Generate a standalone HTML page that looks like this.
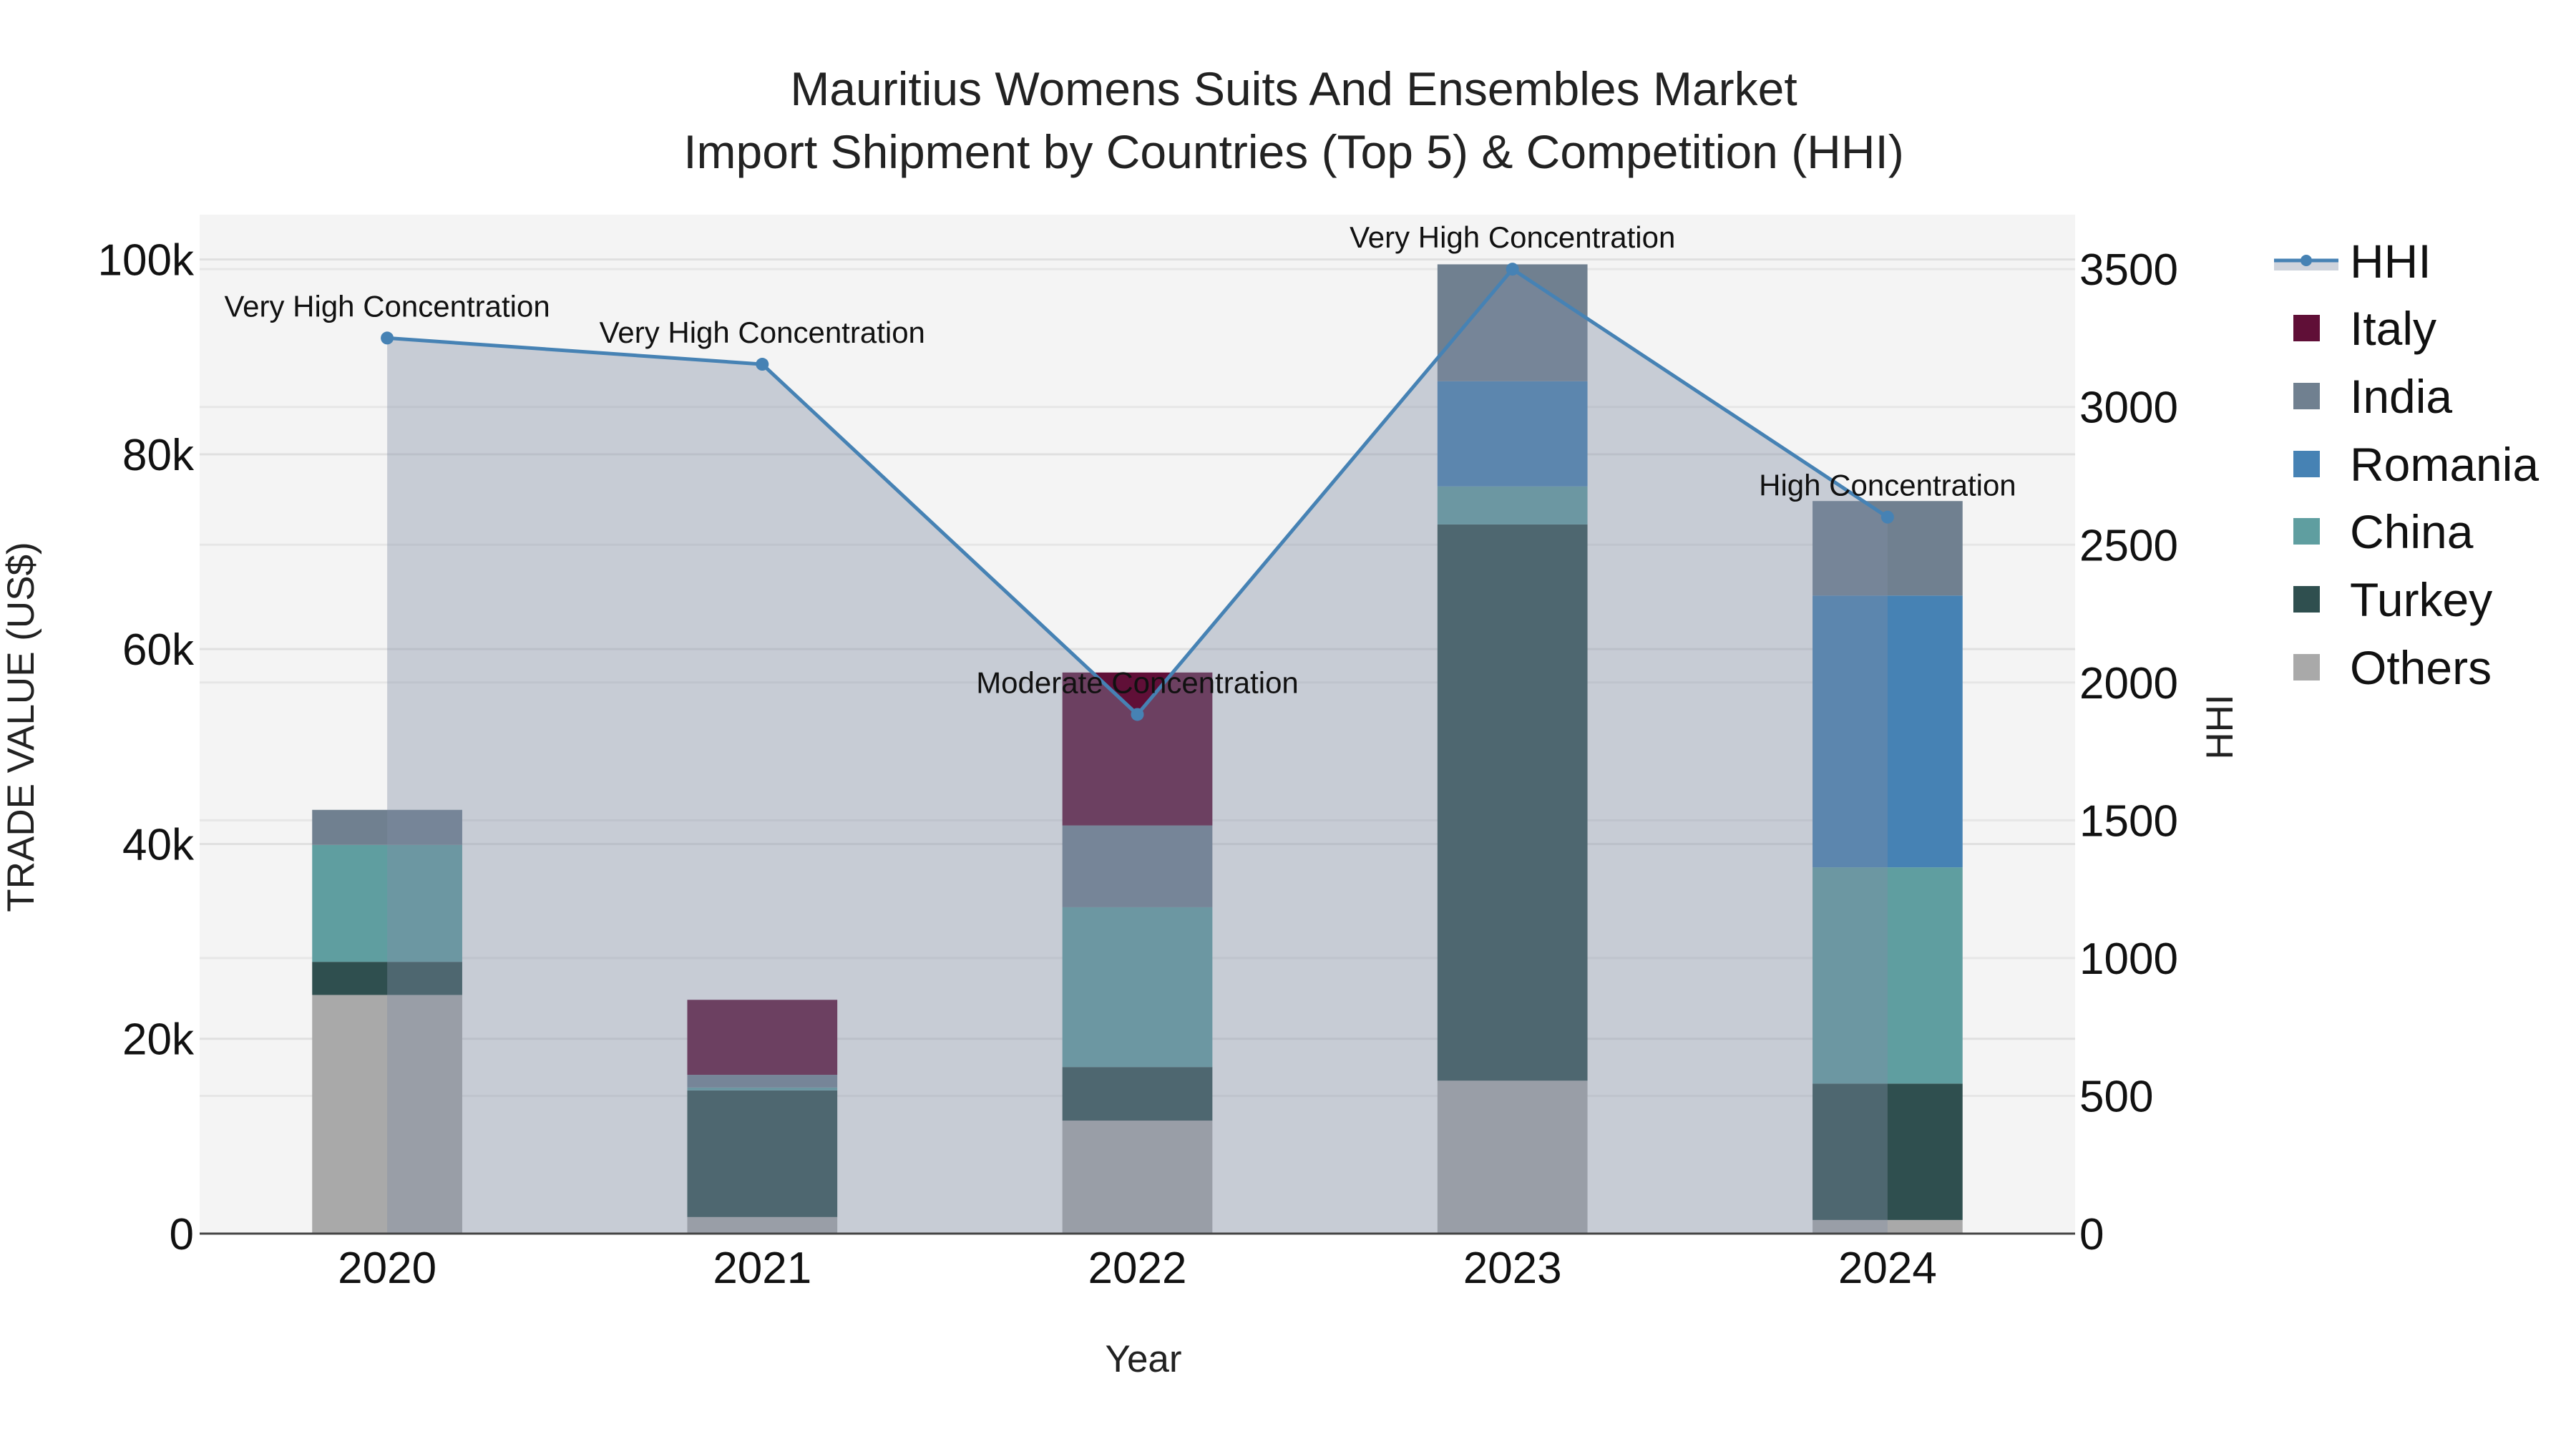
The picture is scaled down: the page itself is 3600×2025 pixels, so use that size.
<!DOCTYPE html>
<html><head><meta charset="utf-8"><style>
html,body{margin:0;padding:0;background:#fff;}
svg{display:block;font-family:"Liberation Sans",Arial,sans-serif;}
</style></head><body>
<svg id="chart" width="3600" height="2025" viewBox="0 0 3600 2025" xmlns="http://www.w3.org/2000/svg">
<rect x="0" y="0" width="3600" height="2025" fill="#ffffff"/>
<rect x="279" y="300" width="2621" height="1424" fill="#f4f4f4"/>
<g id="grid"></g>
<g id="bars"></g>
<g id="hhi"></g>
<line x1="279" y1="1724" x2="2900" y2="1724" stroke="#444" stroke-width="3"/>
<g id="axes"></g>
<text x="1808" y="147" font-size="66" text-anchor="middle" fill="#222">Mauritius Womens Suits And Ensembles Market</text>
<text x="1808" y="235" font-size="66" text-anchor="middle" fill="#222">Import Shipment by Countries (Top 5) &amp; Competition (HHI)</text>
<text x="1598" y="1917" font-size="53" text-anchor="middle" fill="#222">Year</text>
<text transform="translate(47,1016) rotate(-90)" font-size="53" text-anchor="middle" fill="#222">TRADE VALUE (US$)</text>
<text transform="translate(3120,1016) rotate(-90)" font-size="53" text-anchor="middle" fill="#222">HHI</text>
<g id="legend"></g>
</svg>
<script>
const years = ["2020","2021","2022","2023","2024"];
const others  = [24.5, 1.7, 11.6, 15.7, 1.4];
const turkey  = [3.4, 13.0, 5.5, 57.1, 14.0];
const china   = [12.0, 0.3, 16.4, 3.9, 22.2];
const romania = [0, 0, 0, 10.8, 27.9];
const india   = [3.6, 1.3, 8.4, 12.0, 9.7];
const italy   = [0, 7.7, 15.7, 0, 0];
const hhi = [3250, 3155, 1884, 3500, 2600];
const hhiLabels = ["Very High Concentration","Very High Concentration","Moderate Concentration","Very High Concentration","High Concentration"];
const yTicks = [0,20,40,60,80,100];
const yTickLabels = ["0","20k","40k","60k","80k","100k"];
const y2Ticks = [0,500,1000,1500,2000,2500,3000,3500];

const NS="http://www.w3.org/2000/svg";
const X0=279, X1=2900, Y0=1724, YT=300;
const band=(X1-X0)/years.length;
const xC=i=>X0+band*(i+0.5);
const yL=v=>Y0-v*13.614;      // thousands
const yR=h=>Y0-h*0.3851;
function mk(tag,attrs,parent,txt){const e=document.createElementNS(NS,tag);for(const k in attrs)e.setAttribute(k,attrs[k]);if(txt!==undefined)e.textContent=txt;parent.appendChild(e);return e;}
const grid=document.getElementById('grid'),bars=document.getElementById('bars'),hg=document.getElementById('hhi'),axes=document.getElementById('axes'),leg=document.getElementById('legend');

y2Ticks.forEach(t=>{if(t===0)return;const l=mk('line',{x1:X0,x2:X1,y1:yR(t),y2:yR(t),stroke:'#e6e6e6','stroke-width':3},grid);

});
yTicks.forEach((t,i)=>{if(t!==0){const l=mk('line',{x1:X0,x2:X1,y1:yL(t),y2:yL(t),stroke:'#e0e0e0','stroke-width':3},grid);

}
const tx=mk('text',{x:X0-8,y:yL(t)+22,'font-size':62,'text-anchor':'end',fill:'#111'},axes,yTickLabels[i]);

});
y2Ticks.forEach(t=>{const tx=mk('text',{x:2906,y:yR(t)+22,'font-size':62,'text-anchor':'start',fill:'#111'},axes,String(t));

});
years.forEach((y,i)=>{const tx=mk('text',{x:xC(i),y:1793,'font-size':62,'text-anchor':'middle',fill:'#111'},axes,y);

});

const series=[["Others",others,"#a9a9a9"],["Turkey",turkey,"#2f4f4f"],["China",china,"#5f9ea0"],["Romania",romania,"#4682b4"],["India",india,"#708090"],["Italy",italy,"#600f37"]];
const bw=band*0.4;
years.forEach((y,i)=>{let base=0;series.forEach(s=>{const v=s[1][i];if(v>0){const r=mk('rect',{x:xC(i)-bw/2,y:yL(base+v),width:bw,height:yL(base)-yL(base+v),fill:s[2]},bars);

}base+=v;});});

let pts=hhi.map((h,i)=>xC(i)+','+yR(h));
const area=mk('polygon',{points:xC(0)+','+Y0+' '+pts.join(' ')+' '+xC(hhi.length-1)+','+Y0,fill:'rgba(128,142,165,0.39)'},hg);


const pl=mk('polyline',{points:pts.join(' '),fill:'none',stroke:'#4682b4','stroke-width':5},hg);


hhi.forEach((h,i)=>{const c=mk('circle',{cx:xC(i),cy:yR(h),r:9,fill:'#4682b4'},hg);


const t=mk('text',{x:xC(i),y:yR(h)-30,'font-size':42,'text-anchor':'middle',fill:'#111'},hg,hhiLabels[i]);

});

// legend
const ly=[364,458,553,648,742,837,932];
const g0=mk('g',{},leg);


mk('rect',{x:3178,y:364,width:90,height:14,fill:'rgba(128,142,165,0.39)'},g0);
mk('line',{x1:3178,x2:3268,y1:364,y2:364,stroke:'#4682b4','stroke-width':5},g0);
mk('circle',{cx:3223,cy:364,r:8,fill:'#4682b4'},g0);
mk('text',{x:3284,y:388,'font-size':66,fill:'#111'},g0,'HHI');
["Italy","India","Romania","China","Turkey","Others"].forEach((n,k)=>{const s=series.find(q=>q[0]===n);const g=mk('g',{},leg);


mk('rect',{x:3205,y:ly[k+1]-18,width:37,height:37,fill:s[2]},g);
mk('text',{x:3284,y:ly[k+1]+24,'font-size':66,fill:'#111'},g,n);});
</script>
</body></html>
